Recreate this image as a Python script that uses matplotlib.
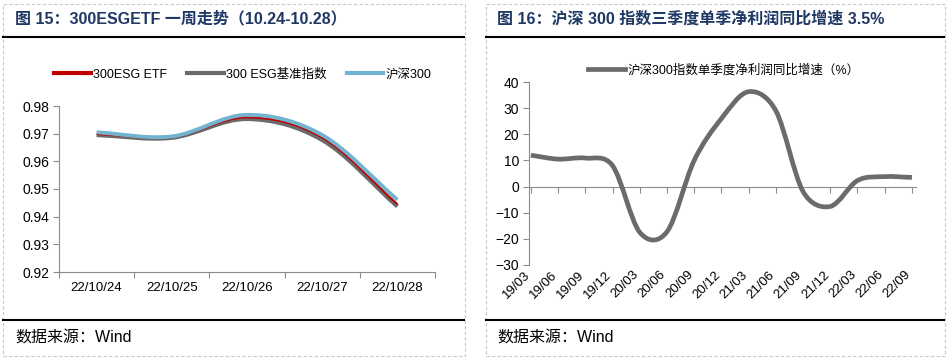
import matplotlib
matplotlib.use('Agg')
import numpy as np
import matplotlib.pyplot as plt
from matplotlib.path import Path
from matplotlib.patches import PathPatch, Rectangle
from matplotlib.lines import Line2D

plt.rcParams['font.family'] = ['Liberation Sans', 'Noto Sans CJK SC', 'DejaVu Sans']

# 左图：300ESGETF 一周走势
dates = ['22/10/24', '22/10/25', '22/10/26', '22/10/27', '22/10/28']
etf = [0.9699, 0.9687, 0.9759, 0.9686, 0.9445]
esg_idx = [0.9695, 0.9685, 0.9753, 0.9677, 0.9437]
hs300 = [0.9705, 0.9690, 0.9768, 0.9695, 0.9461]

# 右图：沪深300单季度净利润同比增速
quarters = ['19/03', '19/06', '19/09', '19/12', '20/03', '20/06', '20/09', '20/12',
            '21/03', '21/06', '21/09', '21/12', '22/03', '22/06', '22/09']
profit = [12.0, 10.5, 10.9, 8.0, -17.5, -17.3, 10.0, 26.0, 36.3, 29.0, -1.9, -7.6, 2.3, 3.8, 3.5]

W, H = 949, 359
AXC = '#8c8c8c'
NAVY = '#1F3864'


def smooth_path(ax, xs, ys):
    # Excel风格平滑线：在屏幕坐标里算Bezier控制点，控制柄长度不超过半段长
    P = ax.transData.transform(np.column_stack([xs, ys]))
    n = len(P)
    verts = [P[0]]
    codes = [Path.MOVETO]
    for i in range(n - 1):
        p0, p1, p2, p3 = P[max(i - 1, 0)], P[i], P[i + 1], P[min(i + 2, n - 1)]
        d12 = np.hypot(*(p2 - p1))
        v1 = (p2 - p0) / (3 if i == 0 else 6)
        v2 = (p3 - p1) / (3 if i + 2 > n - 1 else 6)
        for v in (v1, v2):
            L = np.hypot(*v)
            if L > d12 / 2:
                v *= d12 / 2 / L
        verts += [p1 + v1, p2 - v2, p2]
        codes += [Path.CURVE4] * 3
    verts = ax.transData.inverted().transform(np.array(verts))
    return Path(verts, codes)


def add_curve(ax, xs, ys, color, lw, z):
    ax.add_patch(PathPatch(smooth_path(ax, xs, ys), fill=False, edgecolor=color, lw=lw,
                           capstyle='butt', joinstyle='round', zorder=z))


def fx(px):
    return px / W


def fy(py):
    return 1 - py / H


fig = plt.figure(figsize=(W / 100, H / 100), dpi=100)

# 面板边框与标题线
for x0, x1 in [(3, 465), (486, 945)]:
    fig.patches.append(Rectangle((fx(x0), fy(356)), fx(x1 - x0), (356 - 4) / H, transform=fig.transFigure,
                                 fill=False, ec='#c8c8c8', lw=0.8, ls=(0, (3, 2))))
    fig.lines.append(Line2D([fx(x0), fx(x1 - 1)], [fy(37), fy(37)], transform=fig.transFigure, color='black', lw=1.5))
    fig.lines.append(Line2D([fx(x0), fx(x1 - 1)], [fy(320), fy(320)], transform=fig.transFigure, color='black', lw=1.5))

fig.text(fx(15), fy(19), '图 15：300ESGETF 一周走势（10.24-10.28）', fontsize=11.5, fontweight='bold',
         color=NAVY, va='center', ha='left')
fig.text(fx(497), fy(19), '图 16：沪深 300 指数三季度单季净利润同比增速 3.5%', fontsize=11.5, fontweight='bold',
         color=NAVY, va='center', ha='left')
fig.text(fx(15), fy(338), '数据来源：Wind', fontsize=11.5, va='center', ha='left')
fig.text(fx(497), fy(338), '数据来源：Wind', fontsize=11.5, va='center', ha='left')

# ---------- 左图 ----------
ax1 = fig.add_axes([fx(59), fy(272), (435 - 59) / W, (272 - 106) / H])
ax1.set_xlim(-0.5, len(dates) - 0.5)
ax1.set_ylim(0.92, 0.98)
xi = list(range(len(dates)))
add_curve(ax1, xi, esg_idx, '#6b6b6b', 3.0, 2)
add_curve(ax1, xi, etf, '#C00000', 1.5, 3)
add_curve(ax1, xi, hs300, '#72B4CF', 2.8, 4)
ax1.set_yticks([0.92, 0.93, 0.94, 0.95, 0.96, 0.97, 0.98])
ax1.set_yticklabels(['0.92', '0.93', '0.94', '0.95', '0.96', '0.97', '0.98'])
ax1.set_xticks([i - 0.5 for i in range(len(dates) + 1)])
ax1.set_xticklabels([])
ax1.set_xticks(xi, minor=True)
ax1.set_xticklabels(dates, minor=True)
ax1.tick_params(axis='x', which='major', direction='out', length=4, color=AXC)
ax1.tick_params(axis='x', which='minor', length=0, pad=7, labelsize=9.5)
ax1.tick_params(axis='y', direction='out', length=4, color=AXC, labelsize=10, pad=3)
for s in ['top', 'right']:
    ax1.spines[s].set_visible(False)
for s in ['left', 'bottom']:
    ax1.spines[s].set_color(AXC)
handles = [Line2D([], [], color='#C00000', lw=3.0), Line2D([], [], color='#6b6b6b', lw=3.0),
           Line2D([], [], color='#72B4CF', lw=3.0)]
ax1.legend(handles, ['300ESG ETF', '300 ESG基准指数', '沪深300'], loc='center left',
           bbox_to_anchor=(-0.012, 1.19), ncol=3, frameon=False, fontsize=9, handlelength=2.9,
           handletextpad=0.2, columnspacing=1.6, borderpad=0, borderaxespad=0)

# ---------- 右图 ----------
ax2 = fig.add_axes([fx(529), fy(265), (916 - 529) / W, (265 - 82) / H])
ax2.set_xlim(-0.07, len(quarters) - 1 + 0.15)
ax2.set_ylim(-30, 40)
qi = list(range(len(quarters)))
add_curve(ax2, qi, profit, '#6b6b6b', 3.4, 3)
ax2.set_yticks(range(-30, 41, 10))
ax2.tick_params(axis='y', direction='out', length=4, color=AXC, labelsize=10, pad=3)
ax2.spines['bottom'].set_position(('data', 0))
ax2.spines['bottom'].set_color(AXC)
ax2.spines['left'].set_color(AXC)
for s in ['top', 'right']:
    ax2.spines[s].set_visible(False)
ax2.set_xticks(qi)
ax2.set_xticklabels([])
ax2.tick_params(axis='x', direction='out', length=4, color=AXC)
tr = ax2.get_xaxis_transform()
for i, q in enumerate(quarters):
    ax2.text(i + 0.05, -0.02, q, transform=tr, rotation=45, ha='right', va='top', fontsize=9.5)
ax2.legend([Line2D([], [], color='#6b6b6b', lw=3.4)], ['沪深300指数单季度净利润同比增速（%）'],
           loc='center left', bbox_to_anchor=(0.152, 1.066), frameon=False, fontsize=9,
           handlelength=3.0, handletextpad=0.2, borderpad=0, borderaxespad=0)

fig.savefig('out.png', dpi=100)
